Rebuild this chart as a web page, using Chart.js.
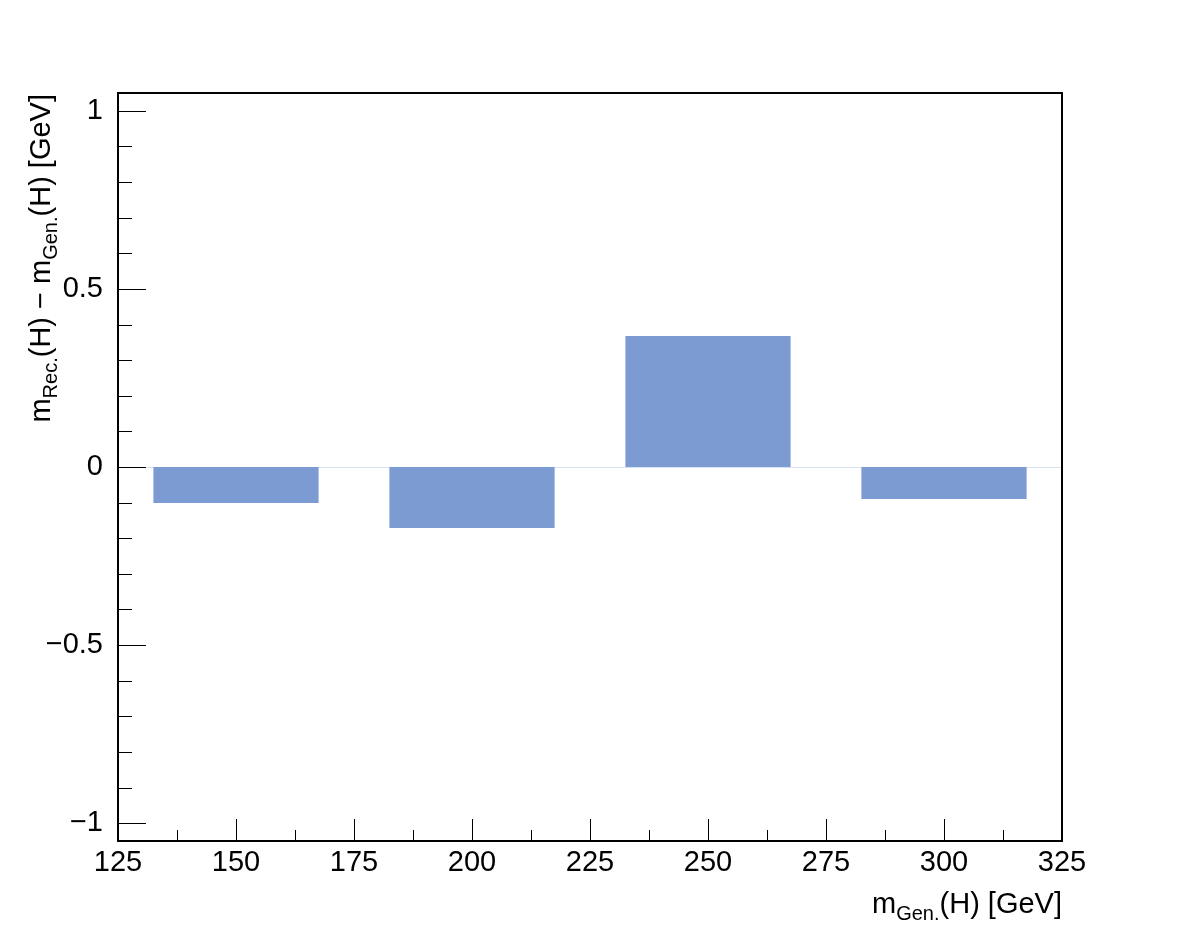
<!DOCTYPE html>
<html>
<head>
<meta charset="utf-8">
<script src="https://cdn.jsdelivr.net/npm/chart.js@4/dist/chart.umd.min.js"></script>
<style>
  body { margin: 0; background: #fff; }
  #c { display: block; }
</style>
</head>
<body>
<canvas id="c" width="1182" height="936"></canvas>
<script>
// bin centres (m_Gen in GeV) and mass difference (GeV)
var binCenters = [150, 200, 250, 300];
var binWidth = 35;
var massDiff = [-0.101, -0.171, 0.368, -0.090];

var xMin = 125, xMax = 325, xStep = 25;
var yMin = -1.05, yMax = 1.05, yStep = 0.5;
var yMinorStep = 0.1;

var FONT = '"Liberation Sans", Arial, Helvetica, sans-serif';
var barColor = 'rgb(124,155,210)';

var points = [];
for (var i = 0; i < binCenters.length; i++) {
  points.push({ x: binCenters[i], y: massDiff[i] });
}

function fmt(v) {
  var s = String(Math.round(v * 100) / 100);
  return s.replace('-', '\u2212');
}

// ROOT style frame with ticks pointing inside
var frameTicks = {
  id: 'frameTicks',
  beforeDatasetsDraw: function(chart) {
    var ctx = chart.ctx, a = chart.chartArea, ys = chart.scales.y;
    var y0 = Math.round(ys.getPixelForValue(0)) + 0.5;
    ctx.save();
    ctx.strokeStyle = 'rgba(124,155,210,0.3)';
    ctx.lineWidth = 1;
    ctx.beginPath();
    ctx.moveTo(a.left, y0);
    ctx.lineTo(a.right, y0);
    ctx.stroke();
    ctx.restore();
  },
  afterDraw: function(chart) {
    var ctx = chart.ctx, a = chart.chartArea;
    var xs = chart.scales.x, ys = chart.scales.y;
    ctx.save();
    ctx.strokeStyle = '#000';
    ctx.lineWidth = 1;
    ctx.beginPath();
    // y ticks
    for (var v = -1; v <= 1.0001; v += yMinorStep) {
      var py = Math.round(ys.getPixelForValue(v)) + 0.5;
      var major = Math.abs(Math.round(v * 10) % 5) === 0;
      ctx.moveTo(a.left, py);
      ctx.lineTo(a.left + (major ? 28 : 14), py);
    }
    // x ticks
    for (var t = xMin; t <= xMax; t += xStep / 2) {
      var px = Math.round(xs.getPixelForValue(t)) + 0.5;
      var majorX = (t - xMin) % xStep === 0;
      ctx.moveTo(px, a.bottom);
      ctx.lineTo(px, a.bottom - (majorX ? 22 : 11));
    }
    ctx.stroke();
    ctx.lineWidth = 2;
    ctx.strokeRect(a.left, a.top, a.right - a.left, a.bottom - a.top);

    // axis titles with subscripts
    ctx.fillStyle = '#000';
    ctx.textBaseline = 'alphabetic';
    var big = '29px ' + FONT, small = '20px ' + FONT;

    // x title
    ctx.font = big;
    var w1 = ctx.measureText('m').width, w3 = ctx.measureText('(H) [GeV]').width;
    ctx.font = small;
    var w2 = ctx.measureText('Gen.').width;
    var xs0 = a.right - (w1 + w2 + w3);
    ctx.textAlign = 'left';
    ctx.font = big;
    ctx.fillText('m', xs0, 913);
    ctx.font = small;
    ctx.fillText('Gen.', xs0 + w1, 920);
    ctx.font = big;
    ctx.fillText('(H) [GeV]', xs0 + w1 + w2, 913);

    // y title
    ctx.translate(50, a.top + 1);
    ctx.rotate(-Math.PI / 2);
    var parts = [['m', big, 0], ['Rec.', small, 7], ['(H) \u2212 m', big, 0], ['Gen.', small, 7], ['(H) [GeV]', big, 0]];
    var total = 0, widths = [];
    for (var k = 0; k < parts.length; k++) {
      ctx.font = parts[k][1];
      widths.push(ctx.measureText(parts[k][0]).width);
      total += widths[k];
    }
    var cx = -total;
    for (var k2 = 0; k2 < parts.length; k2++) {
      ctx.font = parts[k2][1];
      ctx.fillText(parts[k2][0], cx, parts[k2][2]);
      cx += widths[k2];
    }
    ctx.restore();
  }
};

new Chart(document.getElementById('c'), {
  type: 'bar',
  data: {
    datasets: [{
      data: points,
      backgroundColor: barColor,
      borderWidth: 0,
      // bar ruler uses the tick spacing (xStep) as its base width
      barPercentage: binWidth / xStep,
      categoryPercentage: 1
    }]
  },
  options: {
    responsive: false,
    animation: false,
    layout: { padding: { top: 93, right: 120, left: 0, bottom: 0 } },
    plugins: { legend: { display: false }, tooltip: { enabled: false } },
    scales: {
      x: {
        type: 'linear',
        min: xMin, max: xMax,
        offset: false,
        grid: { display: false },
        border: { display: false },
        ticks: {
          stepSize: xStep,
          includeBounds: false,
          autoSkip: false,
          maxRotation: 0,
          padding: -3,
          color: '#000',
          font: { family: FONT, size: 29 },
          callback: function(v) { return fmt(v); }
        },
        afterFit: function(s) { s.height = 95; }
      },
      y: {
        min: yMin, max: yMax,
        grid: { display: false },
        border: { display: false },
        ticks: {
          stepSize: yStep,
          includeBounds: false,
          padding: 7,
          color: '#000',
          font: { family: FONT, size: 29 },
          callback: function(v) { return fmt(v); }
        },
        afterFit: function(s) { s.width = 118; }
      }
    }
  },
  plugins: [frameTicks]
});
</script>
</body>
</html>
